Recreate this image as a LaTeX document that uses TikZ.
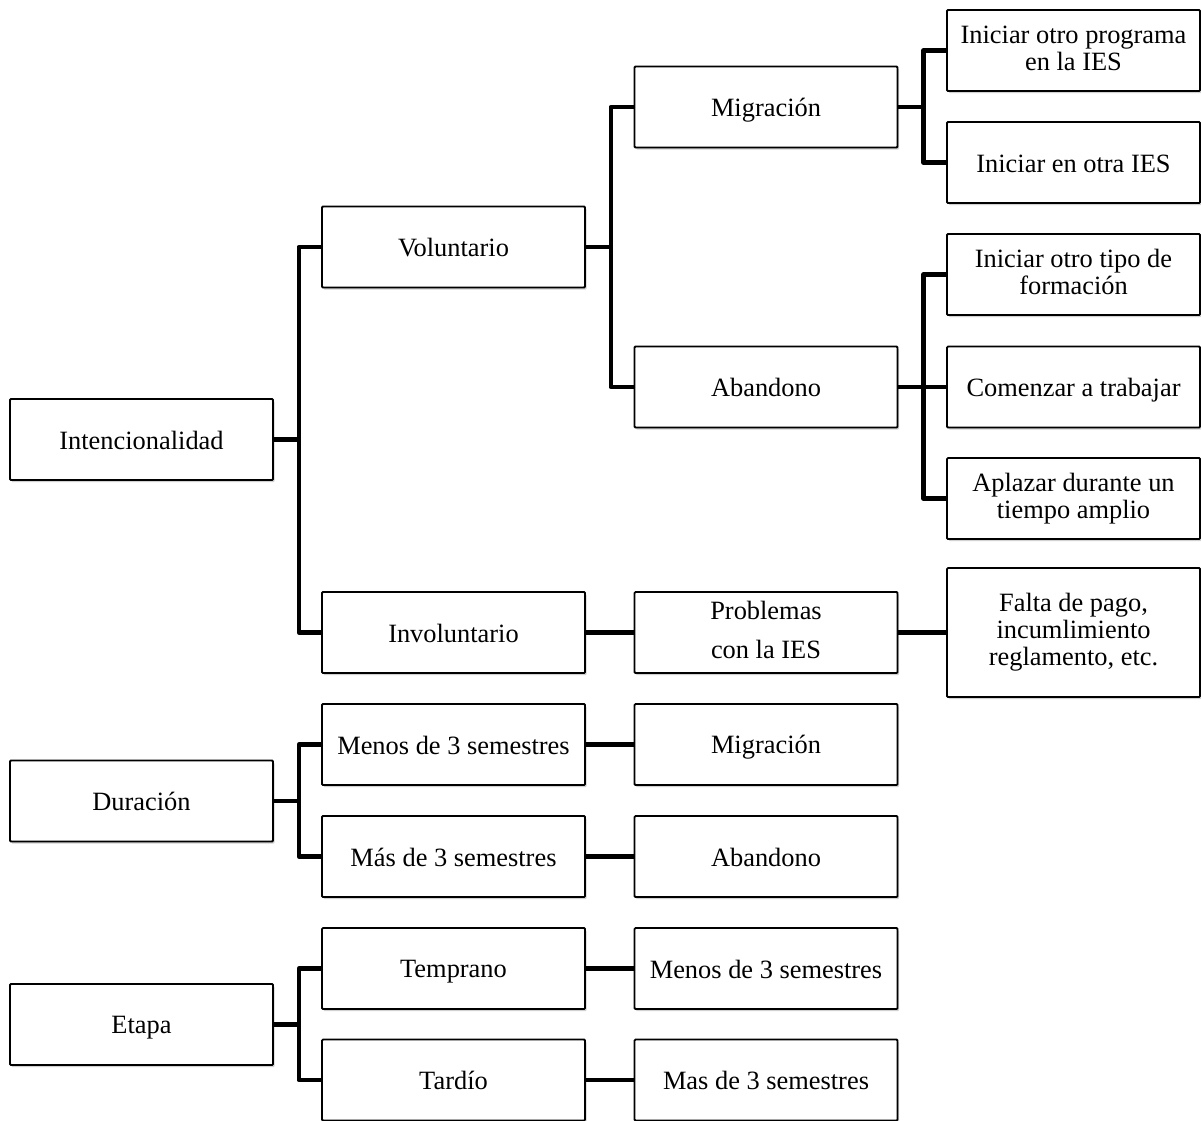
\documentclass[tikz,border=0pt]{standalone}
\usepackage{fontspec}
\setmainfont{Liberation Serif}
\usetikzlibrary{shadows}

% invisible struts that fix the first and last baseline inside every box
\newcommand{\boxstrut}{\rule[-5pt]{0pt}{29pt}}

\tikzset{
  box/.style={draw=black, line width=1.8pt, fill=white, rounded corners=1pt,
    minimum width=263pt, minimum height=81pt, inner sep=0pt, align=center,
    font=\fontsize{26.4}{27}\selectfont,
    execute at begin node=\boxstrut, execute at end node=\boxstrut,
    drop shadow={shadow xshift=1.5pt, shadow yshift=-2pt, fill=black, opacity=0.18}},
  wbox/.style={box, minimum width=253pt},
  conn/.style={draw=black, line width=4.6pt, line join=round}
}

\begin{document}
\begin{tikzpicture}[x=1pt, y=-1pt]
  \useasboundingbox (0,0) rectangle (1201,1120);

  % Intencionalidad branch
  \node[box]  (int)  at (141.5,439.5) {Intencionalidad};
  \node[box]  (vol)  at (453.5,247)   {Voluntario};
  \node[box]  (inv)  at (453.5,632.5) {Involuntario};
  \node[box]  (mig)  at (766,107)     {Migración};
  \node[box]  (abn)  at (766,387)     {Abandono};
  \node[box]  (prob) at (766,632.5)   {Problemas\\[12pt]con la IES};
  \node[wbox] (a1)   at (1073.5,50.5)  {Iniciar otro programa\\en la IES};
  \node[wbox] (a2)   at (1073.5,162.5) {Iniciar en otra IES};
  \node[wbox] (b1)   at (1073.5,274.5) {Iniciar otro tipo de\\formación};
  \node[wbox] (b2)   at (1073.5,387)   {Comenzar a trabajar};
  \node[wbox] (b3)   at (1073.5,498.5) {Aplazar durante un\\tiempo amplio};
  \node[wbox, minimum height=129pt] (c1) at (1073.5,632.5)
       {Falta de pago,\\incumlimiento\\reglamento, etc.};

  % Duración branch
  \node[box] (dur)  at (141.5,801)   {Duración};
  \node[box] (men)  at (453.5,744.5) {Menos de 3 semestres};
  \node[box] (mas)  at (453.5,856.5) {Más de 3 semestres};
  \node[box] (mig2) at (766,744.5)   {Migración};
  \node[box] (abn2) at (766,856.5)   {Abandono};

  % Etapa branch
  \node[box] (eta) at (141.5,1024.5) {Etapa};
  \node[box] (tem) at (453.5,968.5)  {Temprano};
  \node[box] (tar) at (453.5,1080)   {Tardío};
  \node[box] (tm)  at (766,968.5)    {Menos de 3 semestres};
  \node[box] (tt)  at (766,1080)     {Mas de 3 semestres};

  % connectors
  \draw[conn] (int.east) -- ++(25,0) coordinate (j1);
  \draw[conn] (vol.west) -| (j1) |- (inv.west);

  \draw[conn] (vol.east) -- ++(25,0) coordinate (j2);
  \draw[conn] (mig.west) -| (j2) |- (abn.west);

  \draw[conn] (mig.east) -- ++(25,0) coordinate (j3);
  \draw[conn] (a1.west) -| (j3) |- (a2.west);

  \draw[conn] (abn.east) -- (b2.west);
  \path (abn.east) ++(25,0) coordinate (j4);
  \draw[conn] (b1.west) -| (j4) |- (b3.west);

  \draw[conn] (inv.east) -- (prob.west);
  \draw[conn] (prob.east) -- (c1.west);

  \draw[conn] (dur.east) -- ++(25,0) coordinate (j5);
  \draw[conn] (men.west) -| (j5) |- (mas.west);
  \draw[conn] (men.east) -- (mig2.west);
  \draw[conn] (mas.east) -- (abn2.west);

  \draw[conn] (eta.east) -- ++(25,0) coordinate (j6);
  \draw[conn] (tem.west) -| (j6) |- (tar.west);
  \draw[conn] (tem.east) -- (tm.west);
  \draw[conn] (tar.east) -- (tt.west);
\end{tikzpicture}
\end{document}
